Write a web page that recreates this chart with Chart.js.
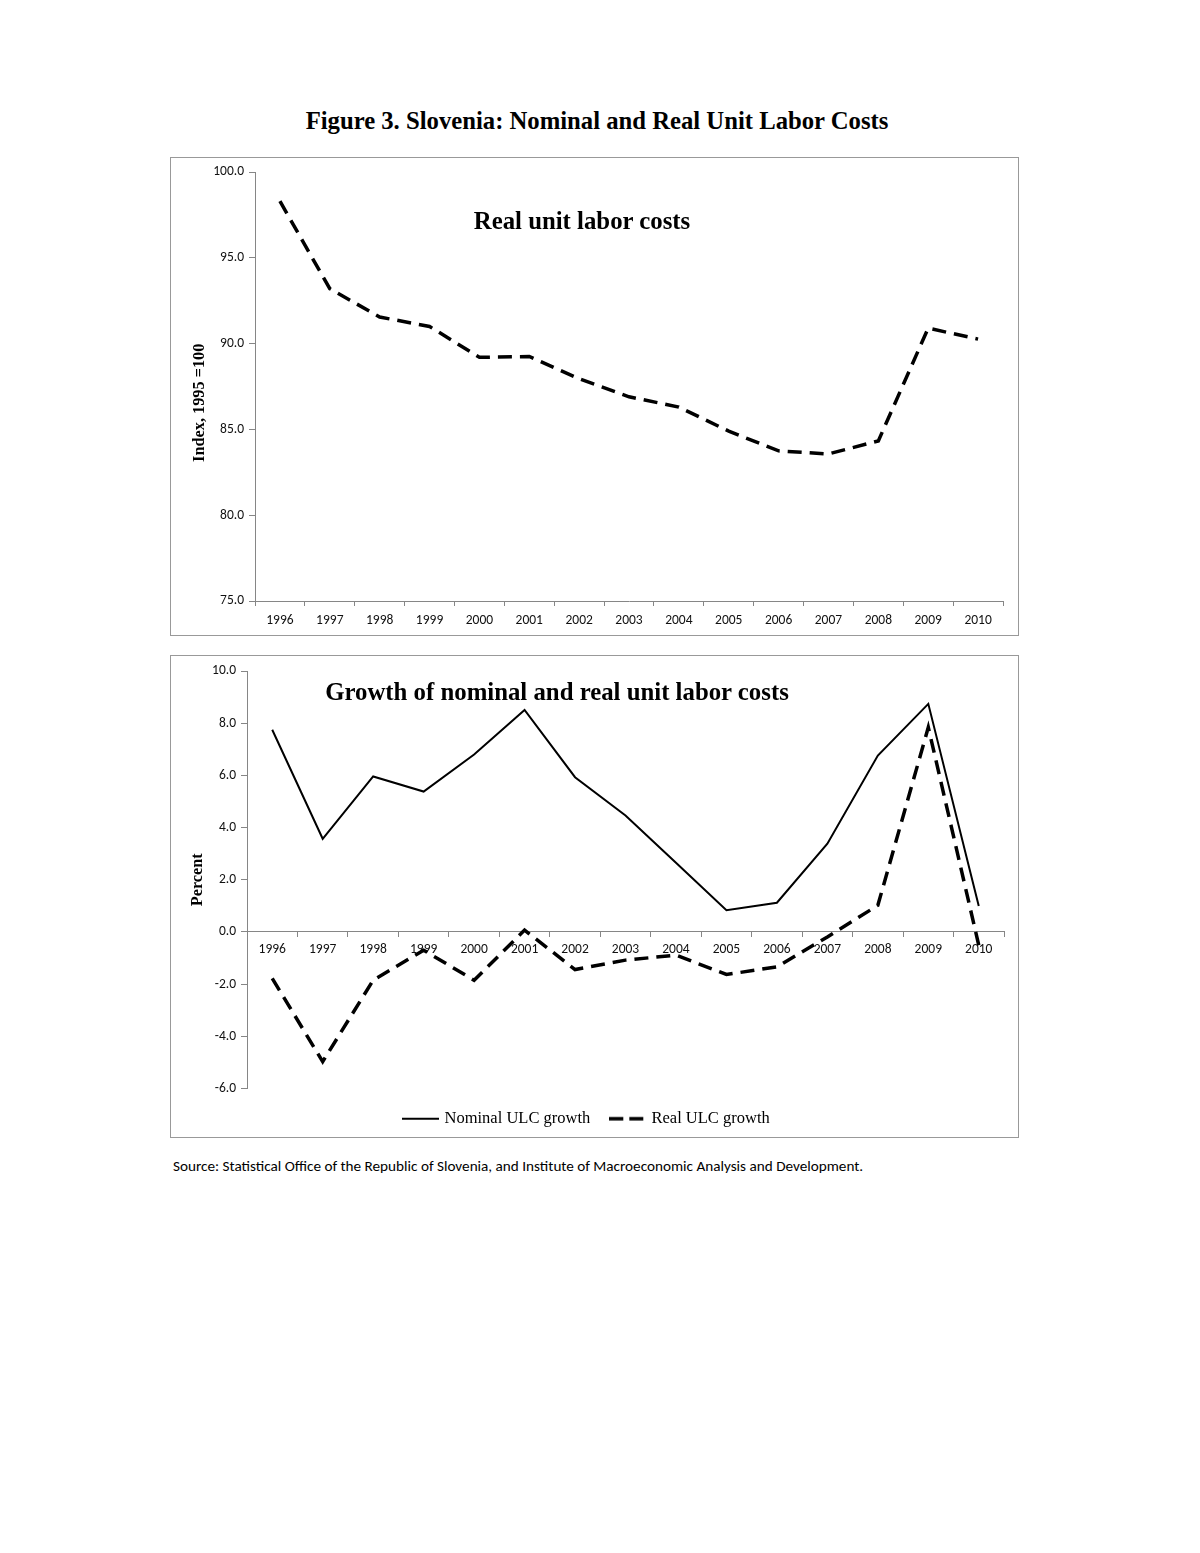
<!DOCTYPE html>
<html>
<head>
<meta charset="utf-8">
<script src="https://cdn.jsdelivr.net/npm/chart.js@4.4.1/dist/chart.umd.min.js"></script>
<style>
  body { margin: 0; background: #fff; width: 1200px; height: 1553px; position: relative; }
  .box { position: absolute; left: 170px; border: 1px solid #999; background: #fff; }
  .box canvas { display: block; }
  .serif { font-family: 'Liberation Serif', 'Times New Roman', serif; font-weight: bold; color: #000; position: absolute; white-space: nowrap; }
  #figTitle { left: 0; width: 1194px; text-align: center; top: 107px; font-size: 24.7px; }
  .inner { font-size: 24.8px; transform: translateX(-50%); }
  #source { position: absolute; left: 173px; top: 1157px; font-family: Carlito, Lato, sans-serif; font-size: 15.2px; color: #000; white-space: nowrap; }
</style>
</head>
<body>
<div id="figTitle" class="serif">Figure 3. Slovenia: Nominal and Real Unit Labor Costs</div>

<div class="box" style="top:157px;width:847px;height:477px;">
  <canvas id="levelChart" width="847" height="477"></canvas>
</div>
<div class="serif inner" style="left:582px;top:207px;">Real unit labor costs</div>

<div class="box" style="top:655px;width:847px;height:481px;">
  <canvas id="growthChart" width="847" height="481"></canvas>
</div>
<div class="serif inner" style="left:557px;top:678px;">Growth of nominal and real unit labor costs</div>

<div id="source">Source: Statistical Office of the Republic of Slovenia, and Institute of Macroeconomic Analysis and Development.</div>

<script>
// data
const years = ['1996', '1997', '1998', '1999', '2000', '2001', '2002', '2003',
               '2004', '2005', '2006', '2007', '2008', '2009', '2010'];
const realIndex = [98.3, 93.2, 91.55, 91.0, 89.2, 89.25, 87.95, 86.9,
                   86.3, 84.9, 83.75, 83.57, 84.33, 90.9, 90.26];
const nominalGrowth = [7.75, 3.57, 5.96, 5.38, 6.8, 8.51, 5.93, 4.46,
                       2.65, 0.83, 1.12, 3.38, 6.76, 8.74, 0.99];
const realGrowth = [-1.78, -4.97, -1.85, -0.7, -1.85, 0.07, -1.44, -1.08,
                    -0.89, -1.63, -1.34, -0.19, 1.02, 7.84, -0.51];

const axisGray = '#868686';
const tickFont = { family: 'Carlito, Lato, sans-serif', size: 13.5 };
const titleFont = { family: "'Liberation Serif', serif", size: 16.3, weight: 'bold' };
const dash = [14, 8];

// little line swatches for the legend (the built-in 'line' style ignores dashes)
function swatch(width, dashPattern) {
    const c = document.createElement('canvas');
    c.width = 37;
    c.height = 6;
    const g = c.getContext('2d');
    g.strokeStyle = '#000';
    g.lineWidth = width;
    g.setLineDash(dashPattern);
    g.beginPath();
    g.moveTo(0, 3);
    g.lineTo(37, 3);
    g.stroke();
    return c;
}

// top chart: real unit labor cost index
new Chart(document.getElementById('levelChart').getContext('2d'), {
    type: 'line',
    data: {
        labels: years,
        datasets: [{
            label: 'Real unit labor costs',
            data: realIndex,
            borderColor: '#000',
            borderWidth: 3.5,
            borderDash: dash,
            pointRadius: 0,
            tension: 0,
            fill: false
        }]
    },
    options: {
        responsive: false,
        animation: false,
        layout: { padding: { top: 14, right: 15, left: 0, bottom: 0 } },
        plugins: { legend: { display: false }, tooltip: { enabled: false } },
        scales: {
            x: {
                offset: true,
                grid: { offset: true, drawOnChartArea: false, tickLength: 5, color: axisGray },
                border: { color: axisGray },
                ticks: { font: tickFont, color: '#111', padding: 7, maxRotation: 0, autoSkip: false },
                afterFit: s => { s.height = 34; }
            },
            y: {
                min: 75,
                max: 100,
                ticks: { stepSize: 5, callback: v => v.toFixed(1), font: tickFont, color: '#111', padding: 5 },
                grid: { drawOnChartArea: false, tickLength: 6, color: axisGray },
                border: { color: axisGray },
                // trailing em spaces nudge the rotated title down a little, as in the original
                title: { display: true, text: 'Index, 1995 =100\u2003\u2003', font: titleFont, color: '#000', padding: { top: 19, bottom: 0 } },
                afterFit: s => { s.width = 84; }
            }
        }
    }
});

// bottom chart: growth rates
new Chart(document.getElementById('growthChart').getContext('2d'), {
    type: 'line',
    data: {
        labels: years,
        datasets: [{
            label: 'Nominal ULC growth',
            data: nominalGrowth,
            borderColor: '#000',
            borderWidth: 2,
            pointRadius: 0,
            pointStyle: swatch(2, []),
            tension: 0,
            fill: false
        }, {
            label: 'Real ULC growth',
            data: realGrowth,
            borderColor: '#000',
            borderWidth: 3.5,
            borderDash: dash,
            pointRadius: 0,
            pointStyle: swatch(3.5, [14, 6]),
            tension: 0,
            fill: false
        }]
    },
    options: {
        responsive: false,
        animation: false,
        layout: { padding: { top: 15, right: 14, left: 0, bottom: 0 } },
        plugins: {
            legend: {
                position: 'bottom',
                labels: {
                    usePointStyle: true,
                    pointStyleWidth: 31,
                    padding: 22,
                    color: '#000',
                    font: { family: "'Liberation Serif', serif", size: 16.5 }
                }
            },
            tooltip: { enabled: false }
        },
        scales: {
            x: {
                position: { y: 0 },
                offset: true,
                grid: { offset: true, drawOnChartArea: false, tickLength: 5, color: axisGray },
                border: { color: axisGray },
                ticks: { font: tickFont, color: '#111', padding: 5, maxRotation: 0, autoSkip: false }
            },
            y: {
                min: -6,
                max: 10,
                ticks: { stepSize: 2, callback: v => v.toFixed(1), font: tickFont, color: '#111', padding: 5 },
                grid: { drawOnChartArea: false, tickLength: 6, color: axisGray },
                border: { color: axisGray },
                title: { display: true, text: 'Percent', font: titleFont, color: '#000', padding: { top: 17, bottom: 0 } },
                afterFit: s => { s.width = 76; }
            }
        }
    }
});
</script>
</body>
</html>
